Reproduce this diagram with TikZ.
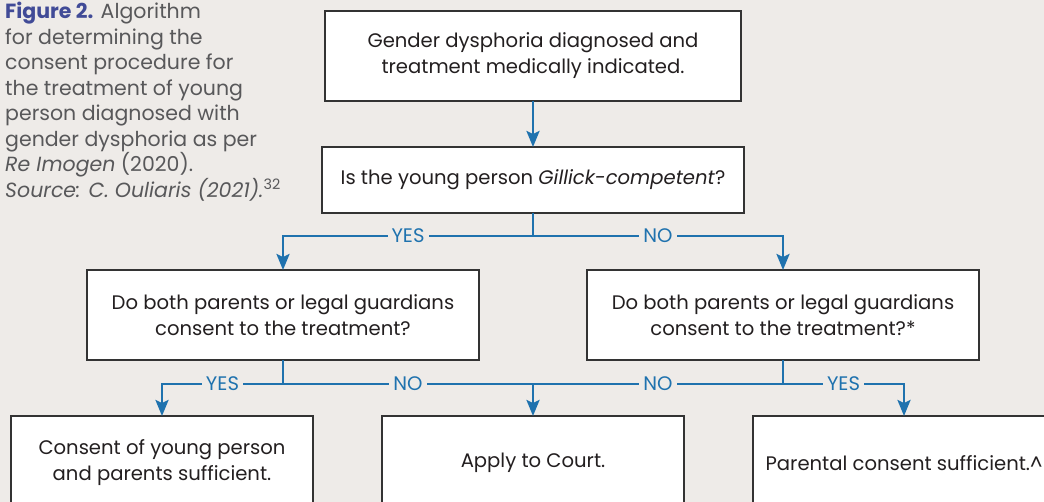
\documentclass[tikz,border=0pt]{standalone}
\usepackage{fontspec}
\setmainfont{Poppins}
\usepackage{xcolor}
\usetikzlibrary{positioning,arrows.meta}
\definecolor{paper}{HTML}{EEEBE8}
\definecolor{flowblue}{HTML}{1F72AE}
\definecolor{figblue}{HTML}{414B97}
\definecolor{capgray}{HTML}{58585A}
\definecolor{boxtext}{HTML}{231F20}

\begin{document}
\begin{tikzpicture}[x=1pt,y=-1pt,>={Stealth[length=16pt,width=13pt,inset=3pt]},font=\fontsize{19.6}{26}\selectfont,
box/.style={draw=black!80,line width=1.1pt,fill=white,text=boxtext,align=center,inner sep=2pt,outer sep=0pt},
wire/.style={flowblue,line width=2.6pt},flow/.style={wire,->},lbl/.style={fill=paper,text=flowblue,inner sep=4pt}]
\useasboundingbox (0,0) rectangle (1044,502); \fill[paper] (0,0) rectangle (1044,502); \clip (0,0) rectangle (1044,502);
% caption
\node[anchor=north west,align=left,inner sep=0pt,text=capgray,font=\fontsize{20.5}{25.5}\selectfont] (cap) at (5,2)
{\textcolor{figblue}{\textbf{Figure 2.}} Algorithm\\for determining the\\consent procedure for\\the treatment of young\\person diagnosed with\\gender dysphoria as per\\\textit{Re Imogen} (2020).\\\textit{Source: C. Ouliaris (2021).}\textsuperscript{32}};
% boxes
\node[box,minimum width=416pt,minimum height=90pt] (diag) at (533,56) {Gender dysphoria diagnosed and\\treatment medically indicated.};
\node[box,minimum width=422pt,minimum height=66pt,below=46pt of diag] (gillick) {Is the young person \textit{Gillick-competent}?};
\node[box,minimum width=392pt,minimum height=90pt] (parL) at (283,315) {Do both parents or legal guardians\\consent to the treatment?};
\node[box,minimum width=392pt,minimum height=90pt,right=108pt of parL] (parR) {Do both parents or legal guardians\\consent to the treatment?*};
\node[box,minimum width=302pt,minimum height=94pt] (court) at (533,463) {Apply to Court.};
\node[box,minimum width=302pt,minimum height=94pt,left=69pt of court] (both) {Consent of young person\\and parents sufficient.};
\node[box,minimum width=302pt,minimum height=94pt,right=69pt of court] (parents) {Parental consent sufficient.\textasciicircum};
% junctions
\coordinate (j1) at (533,236); \coordinate (j2) at (283,384); \coordinate (j3) at (783,384); \coordinate (j4) at (533,384);
% connectors
\draw[flow] (diag) -- (gillick); \draw[wire] (gillick) -- (j1);
\draw[flow] (j1) -| node[lbl,pos=.25] {YES} (parL); \draw[flow] (j1) -| node[lbl,pos=.25] {NO} (parR);
\draw[wire] (parL) -- (j2); \draw[wire] (parR) -- (j3);
\draw[flow] (j2) -| node[lbl,pos=.25] {YES} (both); \draw[wire] (j2) -- node[lbl] {NO} (j4);
\draw[flow] (j3) -| node[lbl,pos=.25] {YES} (parents); \draw[wire] (j3) -- node[lbl] {NO} (j4);
\draw[flow] (j4) -- (court);
\end{tikzpicture}
\end{document}
